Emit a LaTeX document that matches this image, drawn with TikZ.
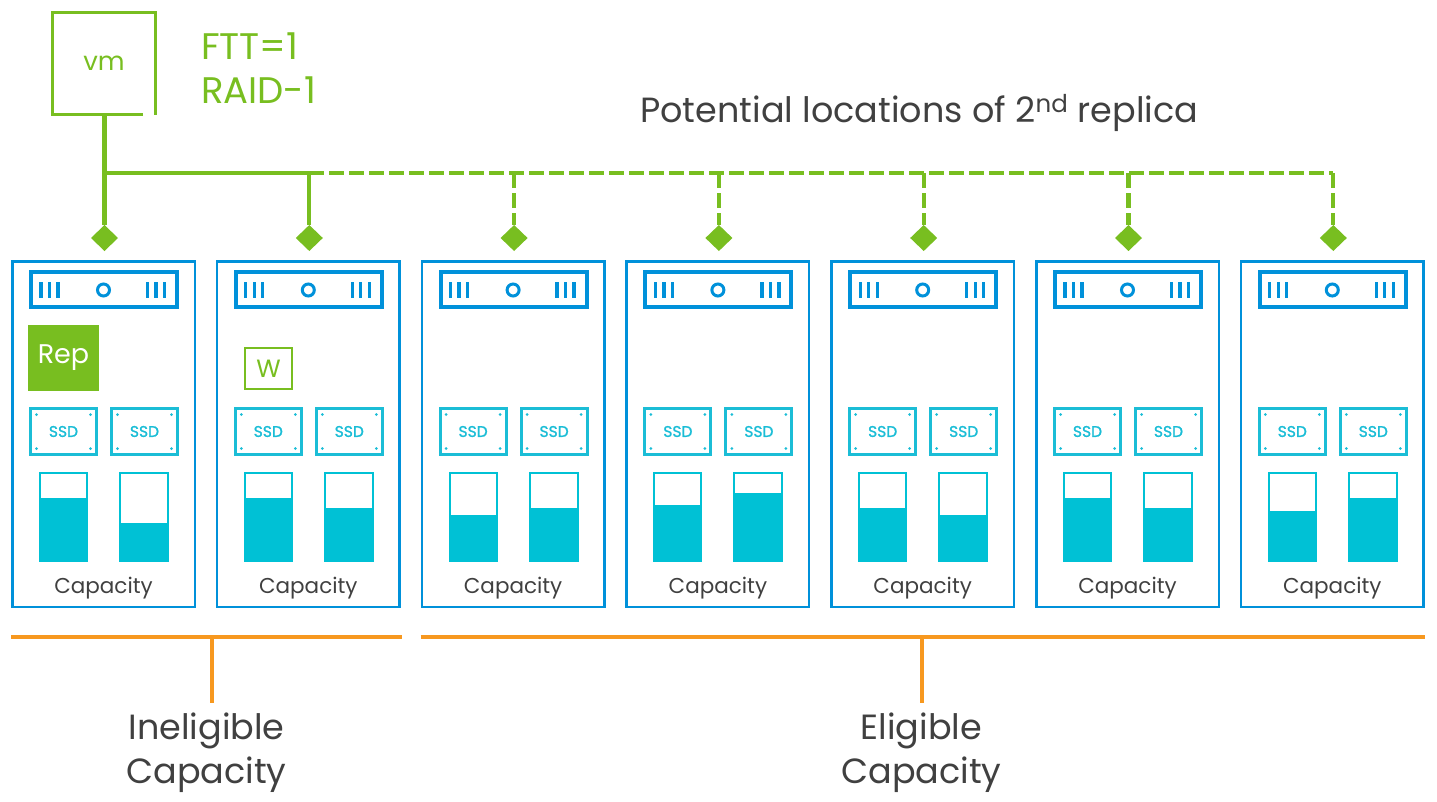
\documentclass[tikz,border=0pt]{standalone}
\usepackage{fontspec}
\setmainfont{Poppins}
\newfontfamily\ssdfont[FakeBold=1.2]{Poppins}
\usetikzlibrary{shapes.geometric}
\definecolor{hblue}{HTML}{0091DA}
\definecolor{cyanc}{HTML}{00C1D5}
\definecolor{ssdc}{HTML}{1BBDD6}
\definecolor{vgreen}{HTML}{78BE20}
\definecolor{vorange}{HTML}{F7981F}
\definecolor{tgray}{HTML}{404040}
\newcommand{\fs}[1]{\fontsize{#1}{#1}\selectfont}
\begin{document}
\begin{tikzpicture}[x=1pt,y=-1pt,
  host/.style={draw=hblue,line width=2.5pt,minimum width=182.5pt,minimum height=345.5pt,inner sep=0,outer sep=0},
  ssd/.style={draw=ssdc,line width=3pt,minimum width=66pt,minimum height=46pt,inner sep=0,outer sep=0,text=ssdc,font=\ssdfont\fs{15.5}},
  gline/.style={draw=vgreen,line width=4.3pt},
  gdash/.style={gline,dash pattern=on 15pt off 5pt},
  oline/.style={draw=vorange,line width=4.5pt},
  dmd/.style={diamond,fill=vgreen,minimum width=27pt,minimum height=26pt,inner sep=0,outer sep=0},
  captext/.style={text=tgray,font=\fs{21.5},anchor=base,inner sep=0},
  lbl/.style={text=tgray,font=\fs{35},anchor=base,inner sep=0},
]
\useasboundingbox (0,0) rectangle (1437,801);
\foreach \i/\fa/\fb in {1/498/523,2/498/508,3/515/508,4/505/493,5/508/515,6/498/508,7/511/498}{
  \pgfmathsetmacro{\xo}{11+204.8*(\i-1)}
  \begin{scope}[shift={(\xo,0)}]
    \node[host] (h\i) at (92.5,434) {};
    \draw[hblue,line width=4pt] (20,272) rectangle (166,307);
    \foreach \bx in {30,38.5,47,136.5,145,153.5} \draw[hblue,line width=3.3pt] (\bx,282) -- (\bx,298);
    \draw[hblue,line width=3pt] (92.5,290) circle [radius=6pt];
    \node[ssd] (sa\i) at (52.5,431.5) {SSD};
    \node[ssd] (sb\i) at (133.5,431.5) {SSD};
    \foreach \dx in {25.5,79.5,106.5,160.5} \foreach \dy in {414.5,448.5} \fill[ssdc] (\dx,\dy) circle [radius=1.5pt];
    \fill[cyanc] (28,\fa) rectangle (77,562);
    \fill[cyanc] (108,\fb) rectangle (158,562);
    \draw[cyanc,line width=2pt] (29,473) rectangle (76,561);
    \draw[cyanc,line width=2pt] (109,473) rectangle (157,561);
    \node[captext] (c\i) at (92.5,593) {Capacity};
    \node[dmd] (d\i) at (93.5,238) {};
    \coordinate (j\i) at (93.5,173);
  \end{scope}
}
% Rep and W
\node[fill=vgreen,minimum width=71pt,minimum height=66pt,inner sep=0,text=white,font=\fs{27}] (rep) at (63.5,358) {Rep};
\node[draw=vgreen,line width=2pt,minimum width=47pt,minimum height=41pt,inner sep=0,text=vgreen,font=\fs{25}] (w) at (268.5,368.5) {W};
% vm
\node[text=vgreen,font=\fs{26},inner sep=0] (vm) at (104,63) {vm};
\draw[vgreen,line width=3pt] (143,114.5) -- (52.5,114.5) -- (52.5,12.5) -- (155.5,12.5) -- (155.5,115);
\coordinate (vmb) at (104.5,116);
\node[text=vgreen,font=\fs{37},anchor=base west,inner sep=0] (ftt) at (201,59) {FTT=1};
\node[text=vgreen,font=\fs{37},anchor=base west,inner sep=0] (raid) at (201,103) {RAID-1};
\node[text=tgray,font=\fs{35},anchor=base west,inner sep=0] (pot) at (640,122) {Potential locations of 2\textsuperscript{nd} replica};
% green connectors
\draw[gline] (vmb) -- (d1.north);
\draw[gline] (j1) -- (j2) -- (d2.north);
\draw[gdash] (j2) -- (j7);
\foreach \i in {3,...,7} \draw[gdash] (j\i) -- (d\i.north);
% orange brackets
\coordinate (o1) at (11,637);
\coordinate (o2) at (401.5,637);
\coordinate (o3) at (420.5,637);
\coordinate (o4) at (1425,637);
\coordinate (ot1) at (212,637);
\coordinate (ob1) at (212,703);
\coordinate (ot2) at (922,637);
\coordinate (ob2) at (922,703);
\draw[oline] (o1) -- (o2);
\draw[oline] (o3) -- (o4);
\draw[oline] (ot1) -- (ob1);
\draw[oline] (ot2) -- (ob2);
\node[lbl] (inel1) at (206.5,739) {Ineligible};
\node[lbl] (inel2) at (206.5,783) {Capacity};
\node[lbl] (el1) at (921.5,739) {Eligible};
\node[lbl] (el2) at (921.5,783) {Capacity};
\end{tikzpicture}
\end{document}
